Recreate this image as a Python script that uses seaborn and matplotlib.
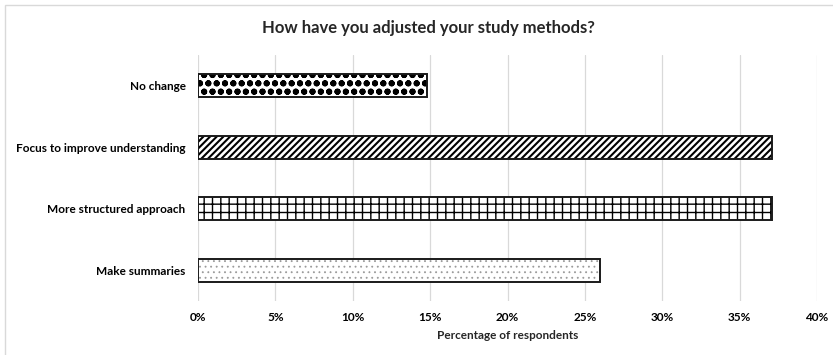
import matplotlib
matplotlib.use("Agg")
import matplotlib.pyplot as plt
from matplotlib.patches import Rectangle
from matplotlib.ticker import PercentFormatter, MultipleLocator
import seaborn as sns
import pandas as pd

# Survey answers (share of respondents, %)
categories = ["No change", "Focus to improve understanding",
              "More structured approach", "Make summaries"]
values = [14.8, 37.1, 37.1, 26.0]
hatches = ["oo..", "/////", "++", "..."]
hatch_colors = ["black", "black", "black", "#9a9a9a"]
hatch_widths = [2.0, 1.5, 1.0, 0.6]

df = pd.DataFrame({"method": categories, "pct": values})

sns.set_theme(style="white")
plt.rcParams["font.family"] = ["Lato", "DejaVu Sans"]

fig = plt.figure(figsize=(8.33, 3.55), dpi=100)
ax = fig.add_axes([0.2377, 0.152, 0.7431, 0.693])

sns.barplot(data=df, x="pct", y="method", order=categories, orient="h",
            color="white", width=0.38, ax=ax, zorder=3)

for patch, h, hc, hw in zip(ax.patches, hatches, hatch_colors, hatch_widths):
    patch.set_facecolor("white")
    patch.set_edgecolor(hc)
    patch.set_linewidth(0)
    patch.set_hatch(h)
    if hasattr(patch, "set_hatch_linewidth"):
        patch.set_hatch_linewidth(hw)
    else:
        patch._hatch_linewidth = hw
    # black outline drawn on top of the hatched fill
    ax.add_patch(Rectangle((patch.get_x(), patch.get_y()),
                           patch.get_width(), patch.get_height(),
                           fill=False, edgecolor="#1a1a1a", linewidth=1.4,
                           zorder=4))

ax.set_xlim(0, 40)
ax.xaxis.set_major_locator(MultipleLocator(5))
ax.xaxis.set_major_formatter(PercentFormatter(decimals=0))
ax.grid(axis="x", color="#d9d9d9", linewidth=0.9, zorder=0)
ax.grid(axis="y", visible=False)
for s in ax.spines.values():
    s.set_visible(False)

ax.tick_params(axis="both", length=0, labelsize=8.5, colors="black")
ax.tick_params(axis="x", pad=8)
ax.tick_params(axis="y", pad=9)
for lab in ax.get_xticklabels() + ax.get_yticklabels():
    lab.set_fontweight("bold")

ax.set_ylabel("")
ax.set_xlabel("Percentage of respondents", fontsize=8.5, fontweight="bold",
              labelpad=5)

fig.text(0.514, 0.921, "How have you adjusted your study methods?",
         ha="center", va="center", fontsize=12, fontweight="bold")

# light chart-area border
fig.add_artist(Rectangle((0.006, -0.01), 1.0, 0.997, transform=fig.transFigure,
                         fill=False, edgecolor="#d9d9d9", linewidth=1.0))

fig.savefig("out.png", dpi=100)
